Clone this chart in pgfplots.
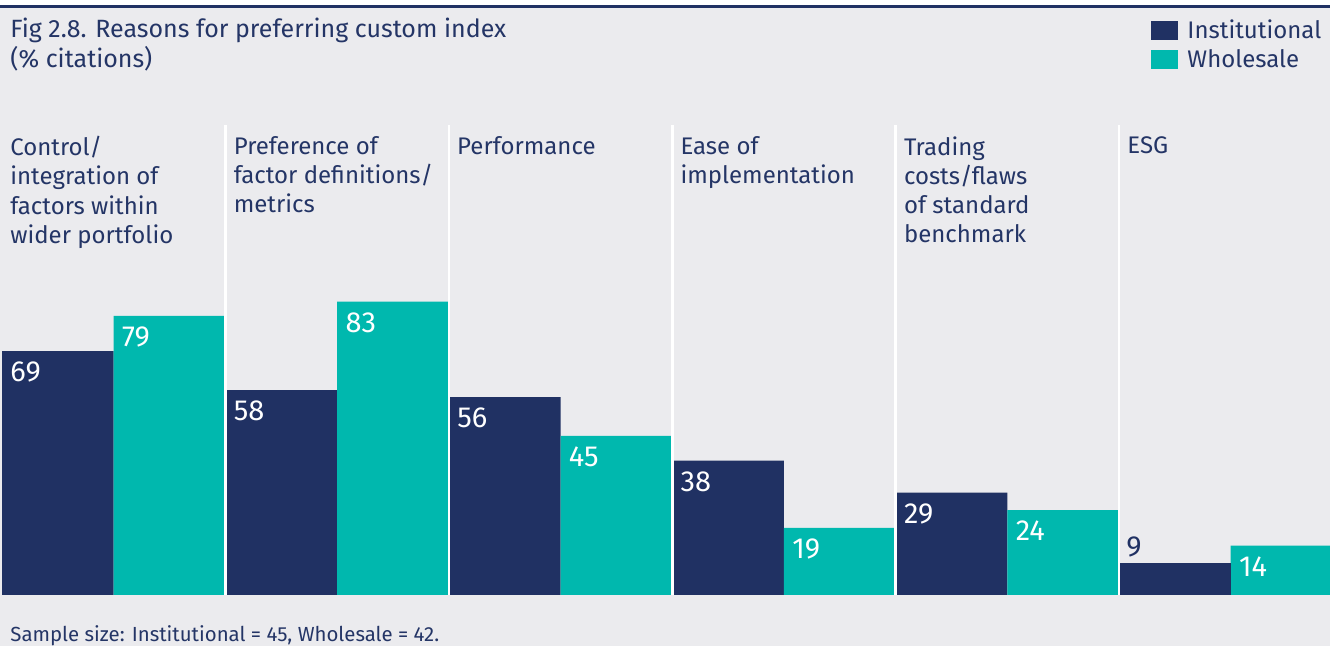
\documentclass[border=0pt]{standalone}
\usepackage{fontspec}
\setmainfont{Fira Sans}
\usepackage{pgfplots}
\pgfplotsset{compat=1.18}
\definecolor{navy}{HTML}{203163}
\definecolor{tealc}{HTML}{00B8AE}
\definecolor{bg}{HTML}{EBEBEE}
\definecolor{txt}{HTML}{243566}
\begin{document}
\begin{tikzpicture}
\useasboundingbox (0,-25.5pt) rectangle (665pt,297.5pt);
\fill[white] (0,-25.5pt) rectangle (665pt,297.5pt);
\fill[bg] (0,-25.5pt) rectangle (665pt,293.5pt);
\draw[navy, line width=1.6pt] (0,294.3pt) -- (665pt,294.3pt);
\begin{axis}[
  at={(0,0)}, anchor=south west,
  scale only axis, width=665pt, height=235pt,
  xmin=0, xmax=1330, ymin=0, ymax=133,
  axis line style={draw=none}, major tick length=0pt,
  ytick=\empty,
  xtick={2,225.4,448.8,672.2,895.6,1119},
  xticklabels={{Control/\\integration of\\factors within\\wider portfolio},
               {Preference of\\factor definitions/\\metrics},
               {Performance},
               {Ease of\\implementation},
               {Trading\\costs/flaws\\of standard\\benchmark},
               {ESG}},
  xticklabel pos=upper,
  xticklabel style={anchor=north west, align=left, inner sep=0pt, text=txt,
     font=\fontsize{12}{14.6}\selectfont, yshift=-5.5pt, xshift=4pt},
  extra x ticks={225.4,448.8,672.2,895.6,1119},
  extra x tick labels={},
  extra x tick style={grid=major, major grid style={white, line width=1.3pt}},
  axis on top,
  /pgf/number format/assume math mode=true,
  legend style={at={(0.999,1.236)}, anchor=north east, draw=none, fill=none,
     font=\fontsize{12}{14}\selectfont, text=txt, row sep=3pt,
     nodes={inner sep=0.5pt},
     /tikz/every odd column/.append style={column sep=4pt}},
  legend cell align=left,
]
\addplot[ybar, bar width=111.7, bar shift=0pt, fill=navy, draw=none,
  legend image code/.code={\fill[navy] (0pt,-4.75pt) rectangle (13.5pt,4.75pt);},
  nodes near coords,
  nodes near coords style={anchor=north west, inner sep=0pt, xshift=-23.9pt, yshift=-5.3pt,
     text=white, font=\fontsize{14.5}{16}\selectfont}]
  coordinates {(57.85,69) (281.25,58) (504.65,56) (728.05,38) (951.45,29)};
\addlegendentry{Institutional}
\addplot[ybar, bar width=111.7, bar shift=0pt, fill=tealc, draw=none,
  legend image code/.code={\fill[tealc] (0pt,-4.75pt) rectangle (13.5pt,4.75pt);},
  nodes near coords,
  nodes near coords style={anchor=north west, inner sep=0pt, xshift=-23.9pt, yshift=-5.3pt,
     text=white, font=\fontsize{14.5}{16}\selectfont}]
  coordinates {(169.55,79) (392.95,83) (616.35,45) (839.75,19) (1063.15,24) (1286.55,14)};
\addlegendentry{Wholesale}
\addplot[ybar, bar width=111.7, bar shift=0pt, fill=navy, draw=none, forget plot,
  nodes near coords,
  nodes near coords style={anchor=south west, inner sep=0pt, xshift=-24.4pt, yshift=3pt,
     text=navy, font=\fontsize{14.5}{16}\selectfont}]
  coordinates {(1174.85,9)};
\end{axis}
\node[anchor=north west, inner sep=0pt, align=left, text=txt,
  font=\fontsize{12.5}{15}\selectfont] at (5pt,288.5pt)
  {Fig 2.8. Reasons for preferring custom index\\(\% citations)};
\node[anchor=base west, inner sep=0pt, text=txt, font=\fontsize{10.2}{12}\selectfont]
  at (5pt,-23.5pt) {Sample size: Institutional = 45, Wholesale = 42.};
\end{tikzpicture}
\end{document}
